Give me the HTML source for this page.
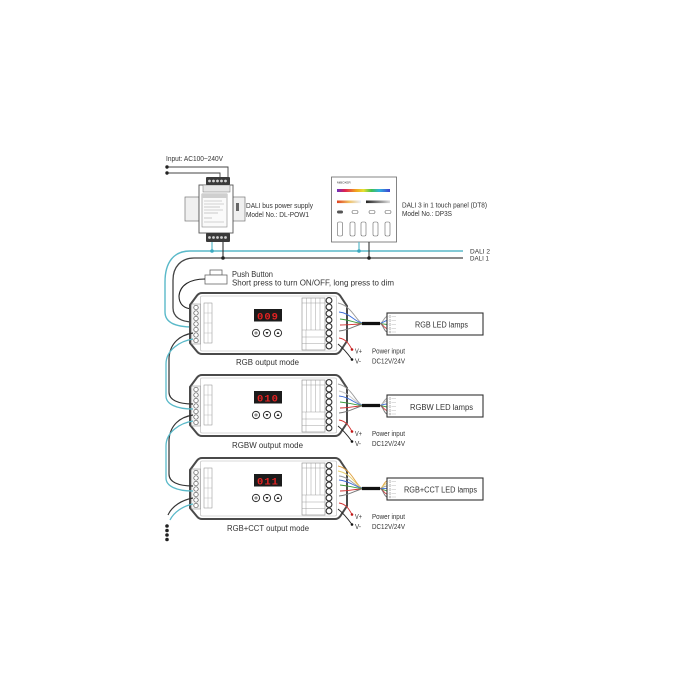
<!DOCTYPE html>
<html><head><meta charset="utf-8"><style>
html,body{margin:0;padding:0;background:#fff;}
svg{display:block;}
text{font-family:"Liberation Sans",sans-serif;fill:#333;}
.dg{font-family:"Liberation Mono",monospace;font-weight:bold;fill:#e32222;font-size:10.5px;}
</style></head><body>
<svg width="700" height="700" viewBox="0 0 700 700" xmlns="http://www.w3.org/2000/svg">
<defs>
<linearGradient id="rb" x1="0" x2="1"><stop offset="0" stop-color="#6a30c0"/><stop offset="0.15" stop-color="#e02050"/><stop offset="0.35" stop-color="#f0a020"/><stop offset="0.5" stop-color="#e8e030"/><stop offset="0.65" stop-color="#40c050"/><stop offset="0.8" stop-color="#30b0e0"/><stop offset="1" stop-color="#4040d0"/></linearGradient>
<linearGradient id="warm" x1="0" x2="1"><stop offset="0" stop-color="#e04020"/><stop offset="0.5" stop-color="#f0c060"/><stop offset="1" stop-color="#e8f0ff"/></linearGradient>
<linearGradient id="gry" x1="0" x2="1"><stop offset="0" stop-color="#222"/><stop offset="1" stop-color="#ddd"/></linearGradient>
<g id="ctl">
  <path d="M202,293 H335 Q338,293 340,295.5 L347,306 V341 L340,351.5 Q338,354 335,354 H202 Q199,354 197,351.5 L190,343 V305 L197,295.5 Q199,293 202,293Z" fill="#fff" stroke="#4a4a4a" stroke-width="2"/>
  <rect x="200.5" y="296" width="136" height="55" rx="1.5" fill="none" stroke="#b5b5b5" stroke-width="0.6"/>
  <rect x="191.5" y="304" width="9" height="40" fill="#f2f2f2" stroke="#888" stroke-width="0.5"/>
  <g fill="#fff" stroke="#555" stroke-width="0.7">
    <circle cx="196" cy="307.5" r="2.2"/><circle cx="196" cy="313" r="2.2"/><circle cx="196" cy="318.5" r="2.2"/><circle cx="196" cy="324" r="2.2"/><circle cx="196" cy="329.5" r="2.2"/><circle cx="196" cy="335" r="2.2"/><circle cx="196" cy="340.5" r="2.2"/>
  </g>
  <rect x="204" y="303" width="8" height="40" fill="#fff" stroke="#888" stroke-width="0.5"/>
  <g stroke="#aaa" stroke-width="0.4">
    <line x1="208" y1="303" x2="208" y2="343"/><line x1="204" y1="313" x2="212" y2="313"/><line x1="204" y1="323" x2="212" y2="323"/><line x1="204" y1="333" x2="212" y2="333"/>
  </g>
  <rect x="302" y="298" width="23" height="52" fill="#fff" stroke="#888" stroke-width="0.6"/>
  <g stroke="#999" stroke-width="0.45">
    <line x1="306.5" y1="298" x2="306.5" y2="330"/><line x1="311" y1="298" x2="311" y2="330"/><line x1="315.5" y1="298" x2="315.5" y2="330"/><line x1="320" y1="298" x2="320" y2="330"/>
    <line x1="302" y1="303" x2="325" y2="303"/><line x1="302" y1="330" x2="325" y2="330"/><line x1="302" y1="337" x2="325" y2="337"/><line x1="302" y1="343.5" x2="325" y2="343.5"/><line x1="306" y1="330" x2="306" y2="350"/>
  </g>
  <g fill="#fff" stroke="#333" stroke-width="1.1">
    <circle cx="329" cy="300.5" r="2.9"/><circle cx="329" cy="307" r="2.9"/><circle cx="329" cy="313.5" r="2.9"/><circle cx="329" cy="320" r="2.9"/><circle cx="329" cy="326.5" r="2.9"/><circle cx="329" cy="333" r="2.9"/><circle cx="329" cy="339.5" r="2.9"/><circle cx="329" cy="346" r="2.9"/>
  </g>
  <rect x="254" y="309" width="28" height="12.5" fill="#1b1b1b"/>
  <g fill="#fff" stroke="#333" stroke-width="1">
    <circle cx="256" cy="333" r="3.6"/><circle cx="267" cy="333" r="3.6"/><circle cx="278" cy="333" r="3.6"/>
  </g>
  <circle cx="256" cy="333" r="1.1" fill="none" stroke="#333" stroke-width="0.6"/>
  <path d="M265.5,332 H268.5 L267,334.5Z" fill="#222"/>
  <path d="M276.5,334 H279.5 L278,331.5Z" fill="#222"/>
</g>
<g id="link">
  <path d="M193,333 C180,335 170,343 169,358 V392 C169,400 178,404 193,404" fill="none" stroke="#333" stroke-width="1.2"/>
  <path d="M193,339 C180,341 166,350 166,364 V396 C166,404 176,409 193,409" fill="none" stroke="#5ab9c9" stroke-width="1.3"/>
</g>
<g id="pwr">
  <path d="M339,338 C346,339 349,344 352,349.5" fill="none" stroke="#d23030" stroke-width="0.9"/>
  <path d="M338,344 C343,348 348,354 352,359.5" fill="none" stroke="#222" stroke-width="0.9"/>
  <circle cx="352" cy="349.5" r="1.3" fill="#c01818"/>
  <circle cx="352" cy="359.5" r="1.3" fill="#111"/>
  <rect x="387" y="313" width="96" height="22" fill="#fff" stroke="#333" stroke-width="1.1"/>
  <g fill="none" stroke="#888" stroke-width="0.4">
    <circle cx="390" cy="316.5" r="1"/><circle cx="390" cy="320.5" r="1"/><circle cx="390" cy="324.5" r="1"/><circle cx="390" cy="328.5" r="1"/><circle cx="390" cy="332" r="1"/>
  </g>
  <g stroke="#bbb" stroke-width="0.5">
    <line x1="392" y1="316.5" x2="396" y2="316.5"/><line x1="392" y1="320.5" x2="396" y2="320.5"/><line x1="392" y1="324.5" x2="396" y2="324.5"/><line x1="392" y1="328.5" x2="396" y2="328.5"/><line x1="392" y1="332" x2="396" y2="332"/>
  </g>
  <line x1="362" y1="323.5" x2="380" y2="323.5" stroke="#111" stroke-width="3.2"/>
</g>
</defs>

<!-- AC input -->
<text x="166" y="161" font-size="7" textLength="57" lengthAdjust="spacingAndGlyphs">Input: AC100~240V</text>
<path d="M167,167 H228 V178" fill="none" stroke="#444" stroke-width="0.9"/>
<path d="M167,173 H220 V178" fill="none" stroke="#444" stroke-width="0.9"/>
<circle cx="167" cy="167" r="1.7" fill="#222"/><circle cx="167" cy="173" r="1.7" fill="#222"/>

<!-- power supply -->
<rect x="185" y="197" width="14" height="24" fill="#f0f0f0" stroke="#777" stroke-width="0.7"/>
<rect x="232" y="197" width="13" height="24" fill="#f0f0f0" stroke="#777" stroke-width="0.7"/>
<rect x="236" y="203" width="3" height="8" fill="#666"/>
<rect x="199" y="185" width="34" height="48" fill="#fff" stroke="#555" stroke-width="0.9"/>
<rect x="203" y="185" width="27" height="7" fill="#e6e6e6" stroke="#777" stroke-width="0.5"/>
<rect x="202" y="194" width="25" height="33" fill="#fafafa" stroke="#888" stroke-width="0.6"/>
<rect x="202" y="194" width="25" height="4" fill="#cfcfcf"/>
<g stroke="#aaa" stroke-width="0.6">
<line x1="204" y1="201" x2="222" y2="201"/><line x1="204" y1="204" x2="224" y2="204"/><line x1="204" y1="207" x2="220" y2="207"/><line x1="204" y1="210" x2="223" y2="210"/><line x1="204" y1="213" x2="218" y2="213"/><line x1="204" y1="218" x2="212" y2="218"/><line x1="204" y1="222" x2="224" y2="222"/>
</g>
<rect x="206" y="177" width="24" height="8" rx="1" fill="#3a3a3a"/>
<g fill="#d0d0d0"><circle cx="209.5" cy="181" r="1.4"/><circle cx="213.5" cy="181" r="1.4"/><circle cx="217.5" cy="181" r="1.4"/><circle cx="221.5" cy="181" r="1.4"/><circle cx="225.5" cy="181" r="1.4"/></g>
<rect x="206" y="233" width="24" height="9" rx="1" fill="#3a3a3a"/>
<g fill="#d0d0d0"><circle cx="209.5" cy="237.5" r="1.4"/><circle cx="213.5" cy="237.5" r="1.4"/><circle cx="217.5" cy="237.5" r="1.4"/><circle cx="221.5" cy="237.5" r="1.4"/><circle cx="225.5" cy="237.5" r="1.4"/></g>
<text x="246" y="208" font-size="7.5" textLength="67" lengthAdjust="spacingAndGlyphs">DALI bus power supply</text>
<text x="246" y="217" font-size="7.5" textLength="63" lengthAdjust="spacingAndGlyphs">Model No.: DL-POW1</text>

<!-- touch panel -->
<rect x="331.5" y="177" width="65" height="65" fill="#fff" stroke="#666" stroke-width="0.8"/>
<text x="337" y="183.5" font-size="3" fill="#444">MiBOXER</text>
<rect x="337" y="189" width="53" height="3" fill="url(#rb)"/>
<rect x="337" y="200.5" width="24" height="2.6" fill="url(#warm)"/>
<rect x="366" y="200.5" width="24" height="2.6" fill="url(#gry)"/>
<rect x="337" y="210.5" width="6" height="3" rx="1.5" fill="#555"/>
<g fill="none" stroke="#666" stroke-width="0.6">
<rect x="352" y="210.5" width="6" height="3" rx="1.5"/><rect x="369" y="210.5" width="6" height="3" rx="1.5"/><rect x="385" y="210.5" width="6" height="3" rx="1.5"/>
<rect x="337.5" y="222" width="5" height="14" rx="1.5"/><rect x="350" y="222" width="5" height="14" rx="1.5"/><rect x="361" y="222" width="5" height="14" rx="1.5"/><rect x="373" y="222" width="5" height="14" rx="1.5"/><rect x="385" y="222" width="5" height="14" rx="1.5"/>
</g>
<text x="402" y="207.5" font-size="7" textLength="85" lengthAdjust="spacingAndGlyphs">DALI 3 in 1 touch panel (DT8)</text>
<text x="402" y="216" font-size="7" textLength="50" lengthAdjust="spacingAndGlyphs">Model No.: DP3S</text>

<!-- DALI bus -->
<path d="M463,251 H190 C174,251 165,262 165,282 V312 C165,322 174,327 193,327" fill="none" stroke="#5ab9c9" stroke-width="1.4"/>
<path d="M463,258 H194 C181,258 173,267 173,280 V308 C173,317 181,322 193,322" fill="none" stroke="#444" stroke-width="1.3"/>
<line x1="212" y1="242" x2="212" y2="251" stroke="#5ab9c9" stroke-width="1.2"/>
<line x1="223" y1="242" x2="223" y2="258" stroke="#333" stroke-width="1.1"/>
<circle cx="212" cy="251" r="1.8" fill="#3aa9c0"/><circle cx="223" cy="258" r="1.8" fill="#222"/>
<line x1="359" y1="242" x2="359" y2="251" stroke="#5ab9c9" stroke-width="1.2"/>
<line x1="369" y1="242" x2="369" y2="258" stroke="#333" stroke-width="1.1"/>
<circle cx="359" cy="251" r="1.8" fill="#3aa9c0"/><circle cx="369" cy="258" r="1.8" fill="#222"/>
<text x="470" y="253.5" font-size="6.5" textLength="20" lengthAdjust="spacingAndGlyphs">DALI 2</text>
<text x="470" y="260.5" font-size="6.5" textLength="19" lengthAdjust="spacingAndGlyphs">DALI 1</text>

<!-- push button -->
<rect x="210" y="270" width="12" height="5" fill="#fff" stroke="#666" stroke-width="0.8"/>
<rect x="205" y="275" width="22" height="9" fill="#fff" stroke="#666" stroke-width="0.8"/>
<path d="M205,279 C190,279 180,285 179,296 C179,304 184,309 193,309" fill="none" stroke="#222" stroke-width="1.1"/>
<text x="232" y="277" font-size="8" textLength="41" lengthAdjust="spacingAndGlyphs">Push Button</text>
<text x="232" y="285.5" font-size="8" textLength="162" lengthAdjust="spacingAndGlyphs">Short press to turn ON/OFF, long press to dim</text>

<!-- controllers -->
<use href="#ctl"/>
<use href="#ctl" y="82"/>
<use href="#ctl" y="165"/>
<text class="dg" x="268" y="319.5" text-anchor="middle" letter-spacing="1">009</text>
<text class="dg" x="268" y="401.5" text-anchor="middle" letter-spacing="1">010</text>
<text class="dg" x="268" y="484.5" text-anchor="middle" letter-spacing="1">011</text>

<use href="#link"/>
<use href="#link" y="82"/>
<path d="M193,498 C182,500 172,506 168,515" fill="none" stroke="#333" stroke-width="1.2"/>
<path d="M193,504 C183,506 174,512 170,520" fill="none" stroke="#5ab9c9" stroke-width="1.3"/>
<g fill="#222"><circle cx="167" cy="526" r="1.8"/><circle cx="167" cy="530.5" r="1.8"/><circle cx="167" cy="535" r="1.8"/><circle cx="167" cy="539.5" r="1.8"/></g>

<text x="236" y="365" font-size="8.5" textLength="63" lengthAdjust="spacingAndGlyphs">RGB output mode</text>
<text x="232" y="448" font-size="8.5" textLength="71" lengthAdjust="spacingAndGlyphs">RGBW output mode</text>
<text x="227" y="531" font-size="8.5" textLength="82" lengthAdjust="spacingAndGlyphs">RGB+CCT output mode</text>

<!-- output wiring ctrl1 -->
<g fill="none" stroke-width="0.9">
<path d="M338,303 C352,306 356,321 362,323" stroke="#9a9a9a"/>
<path d="M339,312 C350,313 355,322 362,323" stroke="#3f6fd8"/>
<path d="M340,319 C350,320 355,323 362,323.5" stroke="#3c9c3c"/>
<path d="M340,325 C350,325 355,324 362,324" stroke="#d23030"/>
<path d="M339,331 C350,330 356,325 362,324" stroke="#777"/>
<path d="M380,323.5 C383,323 384,317 387,316.5" stroke="#999"/>
<path d="M380,323.5 C383,323 384,321 387,320.5" stroke="#3f6fd8"/>
<path d="M380,323.5 L387,324.5" stroke="#3c9c3c"/>
<path d="M380,323.5 C383,324 384,328 387,328.5" stroke="#d23030"/>
<path d="M380,323.5 C383,324 384,331.5 387,332" stroke="#777"/>
</g>
<use href="#pwr"/>
<!-- ctrl2 -->
<g transform="translate(0,82)">
<g fill="none" stroke-width="0.9">
<path d="M338,302 C352,305 356,321 362,323" stroke="#9a9a9a"/>
<path d="M339,309 C350,311 355,321 362,323" stroke="#c8c8c8"/>
<path d="M339,314 C350,315 355,322 362,323" stroke="#3f6fd8"/>
<path d="M340,320 C350,321 355,323 362,323.5" stroke="#3c9c3c"/>
<path d="M340,326 C350,326 355,324 362,324" stroke="#d23030"/>
<path d="M339,331 C350,330 356,325 362,324" stroke="#777"/>
<path d="M380,323.5 C383,323 384,317 387,316.5" stroke="#999"/>
<path d="M380,323.5 C383,323 384,319 387,319" stroke="#c8c8c8"/>
<path d="M380,323.5 C383,323 384,322 387,322" stroke="#3f6fd8"/>
<path d="M380,323.5 L387,325" stroke="#3c9c3c"/>
<path d="M380,323.5 C383,324 384,328 387,328.5" stroke="#d23030"/>
<path d="M380,323.5 C383,324 384,331.5 387,332" stroke="#777"/>
</g>
</g>
<use href="#pwr" y="82"/>
<!-- ctrl3 -->
<g transform="translate(0,165)">
<g fill="none" stroke-width="0.9">
<path d="M338,301 C352,304 356,321 362,323" stroke="#e0a040"/>
<path d="M338,306 C351,308 356,321 362,323" stroke="#e8d070"/>
<path d="M339,311 C350,312 355,322 362,323" stroke="#9a9a9a"/>
<path d="M339,315 C350,316 355,322 362,323" stroke="#3f6fd8"/>
<path d="M340,320 C350,321 355,323 362,323.5" stroke="#3c9c3c"/>
<path d="M340,326 C350,326 355,324 362,324" stroke="#d23030"/>
<path d="M339,331 C350,330 356,325 362,324" stroke="#777"/>
<path d="M380,323.5 C383,323 384,316.5 387,316" stroke="#e0a040"/>
<path d="M380,323.5 C383,323 384,318.5 387,318.5" stroke="#e8d070"/>
<path d="M380,323.5 C383,323 384,321 387,321" stroke="#9a9a9a"/>
<path d="M380,323.5 L387,323.5" stroke="#3f6fd8"/>
<path d="M380,323.5 L387,326" stroke="#3c9c3c"/>
<path d="M380,323.5 C383,324 384,328.5 387,329" stroke="#d23030"/>
<path d="M380,323.5 C383,324 384,331.5 387,332" stroke="#777"/>
</g>
</g>
<use href="#pwr" y="165"/>

<text x="415" y="327.5" font-size="8" textLength="53" lengthAdjust="spacingAndGlyphs">RGB LED lamps</text>
<text x="410" y="410" font-size="8" textLength="63" lengthAdjust="spacingAndGlyphs">RGBW LED lamps</text>
<text x="404" y="492.5" font-size="8" textLength="73" lengthAdjust="spacingAndGlyphs">RGB+CCT LED lamps</text>

<g font-size="7">
<text x="355" y="353.5" textLength="7" lengthAdjust="spacingAndGlyphs">V+</text>
<text x="355" y="363.5" textLength="6" lengthAdjust="spacingAndGlyphs">V-</text>
<text x="372" y="353.5" font-size="7.5" textLength="33" lengthAdjust="spacingAndGlyphs">Power input</text>
<text x="372" y="363.5" font-size="7.5" textLength="33" lengthAdjust="spacingAndGlyphs">DC12V/24V</text>
<text x="355" y="436" textLength="7" lengthAdjust="spacingAndGlyphs">V+</text>
<text x="355" y="446" textLength="6" lengthAdjust="spacingAndGlyphs">V-</text>
<text x="372" y="436" font-size="7.5" textLength="33" lengthAdjust="spacingAndGlyphs">Power input</text>
<text x="372" y="446" font-size="7.5" textLength="33" lengthAdjust="spacingAndGlyphs">DC12V/24V</text>
<text x="355" y="519" textLength="7" lengthAdjust="spacingAndGlyphs">V+</text>
<text x="355" y="529" textLength="6" lengthAdjust="spacingAndGlyphs">V-</text>
<text x="372" y="519" font-size="7.5" textLength="33" lengthAdjust="spacingAndGlyphs">Power input</text>
<text x="372" y="529" font-size="7.5" textLength="33" lengthAdjust="spacingAndGlyphs">DC12V/24V</text>
</g>
</svg>
</body></html>
